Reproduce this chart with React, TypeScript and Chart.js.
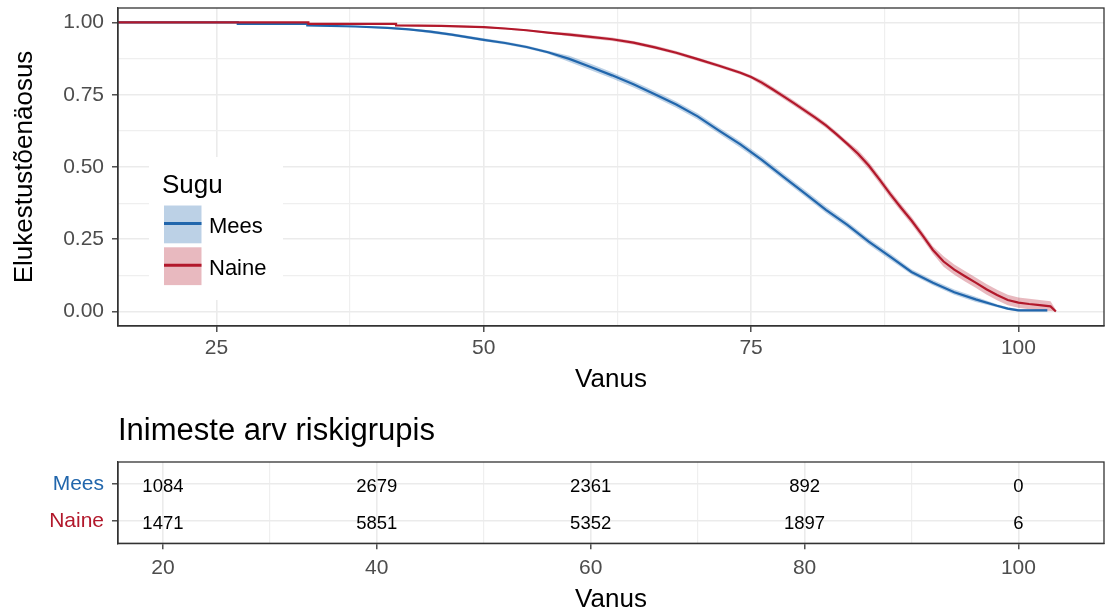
import React, { useEffect, useRef } from "react";
import { Chart, registerables } from "chart.js";

Chart.register(...registerables);

const FONT = '"Liberation Sans", Arial, Helvetica, sans-serif';

// ---------- data ----------
const STRATA = ["Mees", "Naine"];
const LINE_COLORS = ["#2166AC", "#B2182B"];
const BAND_COLORS = ["rgba(33,102,172,0.3)", "rgba(178,24,43,0.3)"];

const MEES_AGE = [15, 27, 27, 33.5, 33.5, 38, 41, 43, 45, 47, 50, 52, 54, 56, 58, 60, 62, 64, 66, 68, 70, 72, 74, 76, 78, 80, 82, 84, 86, 88, 90, 92, 94, 96, 98, 99, 100, 102.7];
const MEES_SURV = [1, 1, 0.995, 0.995, 0.99, 0.986, 0.981, 0.976, 0.968, 0.958, 0.94, 0.929, 0.915, 0.897, 0.874, 0.846, 0.817, 0.786, 0.752, 0.716, 0.675, 0.626, 0.578, 0.525, 0.467, 0.41, 0.352, 0.3, 0.242, 0.19, 0.137, 0.1, 0.067, 0.042, 0.02, 0.01, 0.004, 0.004];
const MEES_LOWER = [1, 1, 0.993, 0.993, 0.988, 0.983, 0.978, 0.973, 0.963, 0.953, 0.935, 0.924, 0.91, 0.892, 0.863, 0.835, 0.806, 0.775, 0.741, 0.705, 0.664, 0.615, 0.567, 0.514, 0.456, 0.399, 0.341, 0.289, 0.231, 0.179, 0.128, 0.091, 0.058, 0.033, 0.015, 0.005, 0, 0];
const MEES_UPPER = [1, 1, 0.997, 0.997, 0.992, 0.989, 0.984, 0.979, 0.973, 0.963, 0.945, 0.934, 0.92, 0.902, 0.885, 0.857, 0.828, 0.797, 0.763, 0.727, 0.686, 0.637, 0.589, 0.536, 0.478, 0.421, 0.363, 0.311, 0.253, 0.201, 0.146, 0.109, 0.076, 0.051, 0.025, 0.015, 0.009, 0.009];

const NAINE_AGE = [15, 33.6, 33.6, 41.8, 41.8, 46, 50, 52, 54, 56, 58, 60, 62, 64, 66, 68, 70, 72, 74, 75, 76, 77, 78, 79, 80, 81, 82, 83, 84, 85, 86, 87, 88, 89, 90, 91, 92, 93, 94, 95, 96, 97, 98, 99, 100, 101, 102, 103, 103.5];
const NAINE_SURV = [1, 1, 0.995, 0.995, 0.99, 0.988, 0.984, 0.979, 0.973, 0.965, 0.958, 0.95, 0.942, 0.93, 0.914, 0.895, 0.873, 0.85, 0.826, 0.811, 0.792, 0.769, 0.745, 0.721, 0.696, 0.671, 0.644, 0.613, 0.58, 0.546, 0.505, 0.457, 0.407, 0.36, 0.315, 0.265, 0.213, 0.173, 0.145, 0.122, 0.1, 0.077, 0.057, 0.04, 0.031, 0.026, 0.022, 0.018, 0];
const NAINE_LOWER = [1, 1, 0.993, 0.993, 0.988, 0.985, 0.981, 0.976, 0.97, 0.962, 0.952, 0.944, 0.936, 0.924, 0.908, 0.889, 0.867, 0.844, 0.82, 0.805, 0.783, 0.76, 0.736, 0.712, 0.687, 0.662, 0.635, 0.604, 0.571, 0.533, 0.492, 0.444, 0.394, 0.347, 0.302, 0.252, 0.2, 0.155, 0.127, 0.104, 0.082, 0.059, 0.039, 0.022, 0.013, 0.008, 0.004, 0.002, 0];
const NAINE_UPPER = [1, 1, 0.997, 0.997, 0.992, 0.991, 0.987, 0.982, 0.976, 0.968, 0.964, 0.956, 0.948, 0.936, 0.92, 0.901, 0.879, 0.856, 0.832, 0.817, 0.801, 0.778, 0.754, 0.73, 0.705, 0.68, 0.653, 0.622, 0.589, 0.559, 0.518, 0.47, 0.42, 0.373, 0.328, 0.278, 0.226, 0.191, 0.163, 0.14, 0.118, 0.095, 0.075, 0.058, 0.049, 0.044, 0.04, 0.036, 0.006];

const X_MIN = 15.8;
const X_MAX = 108;
const TOP_X_GRID = [25, 37.5, 50, 62.5, 75, 87.5, 100];
const TOP_Y_GRID = [0, 0.125, 0.25, 0.375, 0.5, 0.625, 0.75, 0.875, 1];

const RISK_AGES = [20, 40, 60, 80, 100];
const RISK_MEES = [1084, 2679, 2361, 892, 0];
const RISK_NAINE = [1471, 5851, 5352, 1897, 6];
const BOTTOM_X_GRID = [20, 30, 40, 50, 60, 70, 80, 90, 100];

const Y_TITLE = "Elukestustõenäosus";
const X_TITLE = "Vanus";
const LEGEND_TITLE = "Sugu";
const TABLE_TITLE = "Inimeste arv riskigrupis";

// ---------- helpers ----------
const isMult = (v: number, m: number) => Math.abs(v / m - Math.round(v / m)) < 1e-6;
const pts = (xs: number[], ys: number[]) => xs.map((x, i) => ({ x, y: ys[i] }));
const noPad = (s: any) => {
  s.paddingTop = 0;
  s.paddingBottom = 0;
  s.paddingLeft = 0;
  s.paddingRight = 0;
};

const panelBorder = {
  id: "panelBorder",
  afterDraw(chart: any) {
    const { ctx, chartArea: a } = chart;
    ctx.save();
    ctx.strokeStyle = "#333333";
    ctx.lineWidth = 1.3;
    ctx.strokeRect(a.left, a.top, a.right - a.left, a.bottom - a.top);
    ctx.restore();
  },
};

const kmLegend = {
  id: "kmLegend",
  afterDatasetsDraw(chart: any) {
    const { ctx, chartArea: a } = chart;
    const x0 = a.left + 31;
    const y0 = a.top + 149;
    ctx.save();
    ctx.fillStyle = "#ffffff";
    ctx.fillRect(x0, y0, 134, 143);
    ctx.fillStyle = "#000000";
    ctx.textAlign = "left";
    ctx.textBaseline = "middle";
    ctx.font = `26px ${FONT}`;
    ctx.fillText(LEGEND_TITLE, x0 + 13, y0 + 29);
    STRATA.forEach((name, i) => {
      const ky = y0 + 48.5 + i * 41.8;
      ctx.fillStyle = BAND_COLORS[i];
      ctx.fillRect(x0 + 15, ky, 37.5, 37.8);
      ctx.strokeStyle = LINE_COLORS[i];
      ctx.lineWidth = 3;
      ctx.beginPath();
      ctx.moveTo(x0 + 15, ky + 18);
      ctx.lineTo(x0 + 52.5, ky + 18);
      ctx.stroke();
      ctx.fillStyle = "#000000";
      ctx.font = `22px ${FONT}`;
      ctx.fillText(name, x0 + 60, ky + 21.5);
    });
    ctx.restore();
  },
};

const riskText = {
  id: "riskText",
  afterDatasetsDraw(chart: any) {
    const { ctx } = chart;
    const values = [RISK_MEES, RISK_NAINE];
    ctx.save();
    ctx.fillStyle = "#000000";
    ctx.font = `18.5px ${FONT}`;
    ctx.textAlign = "center";
    ctx.textBaseline = "middle";
    chart.data.datasets.forEach((_ds: any, di: number) => {
      const meta = chart.getDatasetMeta(di);
      meta.data.forEach((pt: any, j: number) => {
        ctx.fillText(String(values[di][j]), pt.x, pt.y + 3);
      });
    });
    ctx.restore();
  },
};

const gridColor = (major: boolean) => (major ? "#ebebeb" : "#efefef");

export default function App() {
  const topRef = useRef<HTMLCanvasElement>(null);
  const botRef = useRef<HTMLCanvasElement>(null);

  useEffect(() => {
    Chart.defaults.font.family = FONT;
    const band = (xs: number[], lo: number[], hi: number[], color: string) => [
      { label: "lo", data: pts(xs, lo), borderWidth: 0, borderColor: "rgba(0,0,0,0)", pointRadius: 0, fill: false, order: 10 },
      { label: "hi", data: pts(xs, hi), borderWidth: 0, borderColor: "rgba(0,0,0,0)", pointRadius: 0, fill: "-1", backgroundColor: color, order: 10 },
    ];

    const top = new Chart(topRef.current!, {
      type: "line",
      data: {
        datasets: [
          ...band(MEES_AGE, MEES_LOWER, MEES_UPPER, BAND_COLORS[0]),
          ...band(NAINE_AGE, NAINE_LOWER, NAINE_UPPER, BAND_COLORS[1]),
          { label: STRATA[0], data: pts(MEES_AGE, MEES_SURV), borderColor: LINE_COLORS[0], borderWidth: 2.2, pointRadius: 0, fill: false, order: 1 },
          { label: STRATA[1], data: pts(NAINE_AGE, NAINE_SURV), borderColor: LINE_COLORS[1], borderWidth: 2.2, pointRadius: 0, fill: false, order: 0 },
        ] as any,
      },
      options: {
        animation: false,
        responsive: false,
        events: [],
        layout: { padding: { top: 8, right: 1, left: 0, bottom: 0 } },
        plugins: {
          legend: { display: false },
          tooltip: { enabled: false },
          filler: { drawTime: "beforeDatasetsDraw", propagate: false },
        } as any,
        scales: {
          x: {
            type: "linear",
            min: X_MIN,
            max: X_MAX,
            bounds: "data",
            afterBuildTicks: (s: any) => {
              s.ticks = TOP_X_GRID.map((v) => ({ value: v }));
            },
            afterFit: (s: any) => {
              s.height = 74;
              noPad(s);
            },
            ticks: {
              autoSkip: false,
              maxRotation: 0,
              padding: 3.4,
              color: "#4d4d4d",
              font: { size: 21 },
              callback: (v: any) => (isMult(Number(v), 25) ? String(v) : ""),
            },
            grid: {
              color: (c: any) => gridColor(isMult(c.tick?.value ?? 0, 25)),
              lineWidth: (c: any) => (isMult(c.tick?.value ?? 0, 25) ? 1.6 : 1.2),
              tickLength: 6,
              tickWidth: 1.3,
              tickColor: (c: any) => (isMult(c.tick?.value ?? 0, 25) ? "#333333" : "rgba(0,0,0,0)"),
            },
            border: { display: true, color: "#333333", width: 1.3 },
            title: { display: true, text: X_TITLE, color: "#000000", font: { size: 26 }, padding: { top: 0, bottom: 4.4 } },
          },
          y: {
            type: "linear",
            min: -0.05,
            max: 1.05,
            bounds: "data",
            afterBuildTicks: (s: any) => {
              s.ticks = TOP_Y_GRID.map((v) => ({ value: v }));
            },
            afterFit: (s: any) => {
              s.width = 118;
              noPad(s);
            },
            ticks: {
              autoSkip: false,
              padding: 8,
              color: "#4d4d4d",
              font: { size: 21 },
              callback: (v: any) => (isMult(Number(v), 0.25) ? Number(v).toFixed(2) : ""),
            },
            grid: {
              color: (c: any) => gridColor(isMult(c.tick?.value ?? 0, 0.25)),
              lineWidth: (c: any) => (isMult(c.tick?.value ?? 0, 0.25) ? 1.6 : 1.2),
              tickLength: 6,
              tickWidth: 1.3,
              tickColor: (c: any) => (isMult(c.tick?.value ?? 0, 0.25) ? "#333333" : "rgba(0,0,0,0)"),
            },
            border: { display: true, color: "#333333", width: 1.3 },
            title: { display: true, text: Y_TITLE, color: "#000000", font: { size: 26 }, padding: { top: 9, bottom: 0 } },
          },
        },
      } as any,
      plugins: [kmLegend, panelBorder],
    });

    const rowOf = (i: number) => STRATA.length - i;
    const bottom = new Chart(botRef.current!, {
      type: "scatter",
      data: {
        datasets: [RISK_MEES, RISK_NAINE].map((_vals, i) => ({
          label: STRATA[i],
          data: RISK_AGES.map((a) => ({ x: a, y: rowOf(i) })),
          pointRadius: 0,
          showLine: false,
        })),
      },
      options: {
        animation: false,
        responsive: false,
        events: [],
        layout: { padding: { top: 0, right: 1, left: 0, bottom: 0 } },
        plugins: {
          legend: { display: false },
          tooltip: { enabled: false },
          title: {
            display: true,
            text: TABLE_TITLE,
            align: "start",
            fullSize: false,
            color: "#000000",
            font: { size: 31, weight: "normal" },
            padding: { top: 12.4, bottom: 12.4 },
          },
        } as any,
        scales: {
          x: {
            type: "linear",
            min: X_MIN,
            max: X_MAX,
            bounds: "data",
            afterBuildTicks: (s: any) => {
              s.ticks = BOTTOM_X_GRID.map((v) => ({ value: v }));
            },
            afterFit: (s: any) => {
              s.height = 76.7;
              noPad(s);
            },
            ticks: {
              autoSkip: false,
              maxRotation: 0,
              padding: 6.8,
              color: "#4d4d4d",
              font: { size: 21 },
              callback: (v: any) => (isMult(Number(v), 20) ? String(v) : ""),
            },
            grid: {
              color: (c: any) => gridColor(isMult(c.tick?.value ?? 0, 20)),
              lineWidth: (c: any) => (isMult(c.tick?.value ?? 0, 20) ? 1.6 : 1.2),
              tickLength: 6,
              tickWidth: 1.3,
              tickColor: (c: any) => (isMult(c.tick?.value ?? 0, 20) ? "#333333" : "rgba(0,0,0,0)"),
            },
            border: { display: true, color: "#333333", width: 1.3 },
            title: { display: true, text: X_TITLE, color: "#000000", font: { size: 26 }, padding: { top: 0, bottom: 4.8 } },
          },
          y: {
            type: "linear",
            min: 0.4,
            max: 2.6,
            bounds: "data",
            afterBuildTicks: (s: any) => {
              s.ticks = STRATA.map((_n, i) => ({ value: rowOf(i) }));
            },
            afterFit: (s: any) => {
              s.width = 118;
              noPad(s);
            },
            ticks: {
              autoSkip: false,
              padding: 8,
              font: { size: 21 },
              color: (c: any) => LINE_COLORS[STRATA.length - (c.tick?.value ?? 1)] || "#4d4d4d",
              callback: (v: any) => STRATA[STRATA.length - Number(v)] ?? "",
            },
            grid: {
              color: "#ebebeb",
              lineWidth: 1.6,
              tickLength: 6,
              tickWidth: 1.3,
              tickColor: "#333333",
            },
            border: { display: true, color: "#333333", width: 1.3 },
          },
        },
      } as any,
      plugins: [riskText, panelBorder],
    });

    return () => {
      top.destroy();
      bottom.destroy();
    };
  }, []);

  return (
    <div style={{ position: "fixed", left: 0, top: 0, width: 1105, height: 612, overflow: "hidden", background: "#ffffff" }}>
      <canvas ref={topRef} width={1105} height={400} style={{ position: "absolute", left: 0, top: 0, width: 1105, height: 400 }} />
      <canvas ref={botRef} width={1105} height={220} style={{ position: "absolute", left: 0, top: 400, width: 1105, height: 220 }} />
    </div>
  );
}
